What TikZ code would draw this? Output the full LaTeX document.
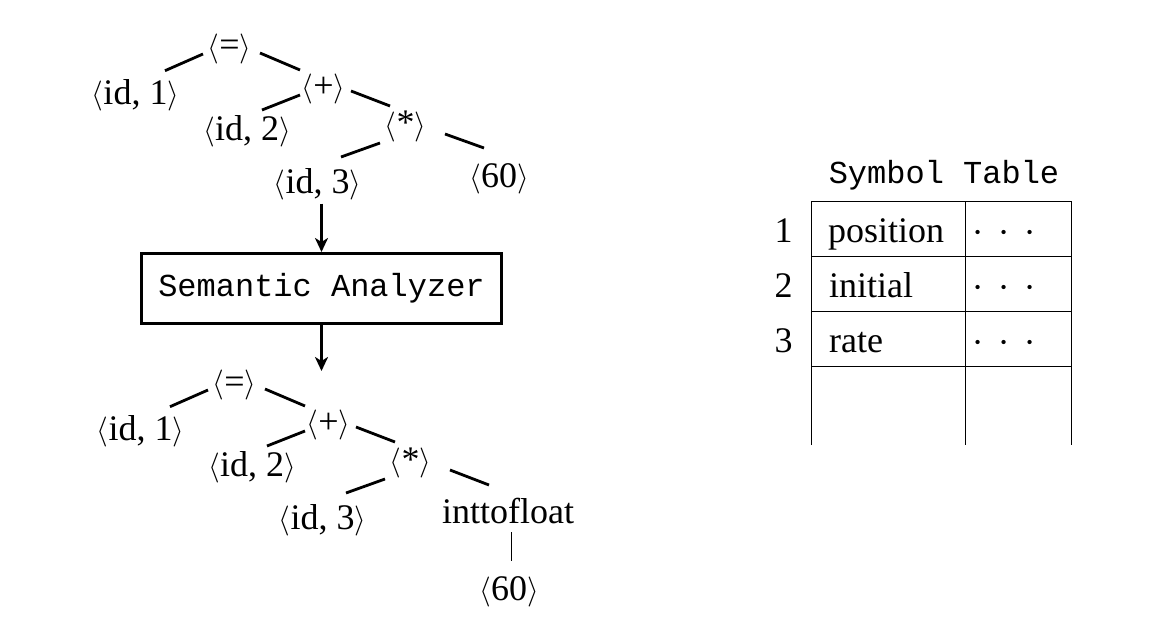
\documentclass[tikz,border=0pt]{standalone}
\usepackage{graphicx}
\usepackage{fontspec}
\setmainfont{Liberation Serif}
\setmonofont{Liberation Mono}
\usetikzlibrary{arrows.meta,calc}
\newcommand{\lbr}{\raisebox{1pt}{\scalebox{3}{\normalsize$\langle$}}}
\newcommand{\rbr}{\raisebox{1pt}{\scalebox{3}{\normalsize$\rangle$}}}
\newcommand{\abr}[1]{\lbr#1\rbr}
\newcommand{\tdot}{\scalebox{4}{\normalsize$\cdot$}}
\newcommand{\tdots}{\tdot\hspace{15pt}\tdot\hspace{15pt}\tdot}
\begin{document}
\begin{tikzpicture}[x=1pt,y=-1pt,
  lbl/.style={inner sep=0pt, anchor=base, font=\fontsize{36}{40}\selectfont},
  cell/.style={inner sep=0pt, anchor=base west, font=\fontsize{36}{40}\selectfont},
  edge/.style={line width=2.8pt},
  thinedge/.style={line width=1pt},
  grid/.style={line width=0.9pt},
  arr/.style={line width=3pt, -{Stealth[length=14pt,width=13pt,inset=4pt]}},
  tt/.style={font=\ttfamily\fontsize{32}{36}\selectfont}]
\useasboundingbox (0,0) rectangle (1176,626);

% ---------- top tree ----------
\node[lbl] (teq)   at (229.5,57)  {\abr{=}};
\node[lbl] (tid1)  at (135.5,104) {\abr{id, 1}};
\node[lbl] (tplus) at (323.5,97)  {\abr{+}};
\node[lbl] (tid2)  at (247,140)   {\abr{id, 2}};
\node[lbl] (tstar) at (405.5,135) {\abr{*}};
\node[lbl] (tid3)  at (317.5,193) {\abr{id, 3}};
\node[lbl] (tsixty) at (499,187)  {\abr{60}};

\draw[edge] ($(teq.base)+(-26.5,-3)$)  -- ($(tid1.base)+(29.5,-33.3)$);
\draw[edge] ($(teq.base)+(30.5,-4)$)   -- ($(tplus.base)+(-23.5,-27)$);
\draw[edge] ($(tplus.base)+(-23.5,-2)$) -- ($(tid2.base)+(15,-30)$);
\draw[edge] ($(tplus.base)+(27.5,-6)$) -- ($(tstar.base)+(-15.5,-29)$);
\draw[edge] ($(tstar.base)+(-25.5,8)$) -- ($(tid3.base)+(23.5,-36)$);
\draw[edge] ($(tstar.base)+(39.5,-1)$) -- ($(tsixty.base)+(-15,-39)$);

% ---------- analyzer ----------
\node[draw, line width=3pt, minimum width=360pt, minimum height=70pt, inner sep=0pt, tt] (sa) at (321.5,288.5) {Semantic Analyzer};
\coordinate (aend) at (321.5,371);
\draw[arr, shorten <=4pt] (tid3.south -| sa.north) -- (sa.north);
\draw[arr] (sa.south) -- (aend);

% ---------- bottom tree ----------
\node[lbl] (beq)   at (234.5,393) {\abr{=}};
\node[lbl] (bid1)  at (140.5,440) {\abr{id, 1}};
\node[lbl] (bplus) at (328.5,433) {\abr{+}};
\node[lbl] (bid2)  at (252,476)   {\abr{id, 2}};
\node[lbl] (bstar) at (410.5,471) {\abr{*}};
\node[lbl] (bid3)  at (322.5,529) {\abr{id, 3}};
\node[lbl] (bint)  at (508,523)   {inttofloat};
\node[lbl] (bsixty) at (509,600)  {\abr{60}};

\draw[edge] ($(beq.base)+(-26.5,-3)$)  -- ($(bid1.base)+(29.5,-33.3)$);
\draw[edge] ($(beq.base)+(30.5,-4)$)   -- ($(bplus.base)+(-23.5,-27)$);
\draw[edge] ($(bplus.base)+(-23.5,-2)$) -- ($(bid2.base)+(15,-30)$);
\draw[edge] ($(bplus.base)+(27.5,-6)$) -- ($(bstar.base)+(-15.5,-29)$);
\draw[edge] ($(bstar.base)+(-25.5,8)$) -- ($(bid3.base)+(23.5,-36)$);
\draw[edge] ($(bstar.base)+(39.5,-1)$) -- ($(bint.base)+(-19,-38)$);
\draw[thinedge] ($(bint.base)+(3,9)$) -- ($(bsixty.base)+(2,-39)$);

% ---------- symbol table ----------
\node[tt, inner sep=0pt, anchor=base] (sttitle) at (944,183) {Symbol Table};
\draw[grid] (811.7,445) -- (811.7,201) -- (1071.7,201) -- (1071.7,445);
\draw[grid] (965,201) -- (965,445);
\draw[grid] (811.7,256.7) -- (1071.7,256.7);
\draw[grid] (811.7,311.7) -- (1071.7,311.7);
\draw[grid] (811.7,366.7) -- (1071.7,366.7);

\node[lbl] (r1) at (783.5,242) {1};
\node[lbl] (r2) at (783.5,297) {2};
\node[lbl] (r3) at (783.5,352) {3};
\node[cell] (c1) at (828,242) {position};
\node[cell] (c2) at (829,297) {initial};
\node[cell] (c3) at (829,352) {rate};
\node[lbl] (d1) at (1004,242) {\tdots};
\node[lbl] (d2) at (1004,297) {\tdots};
\node[lbl] (d3) at (1004,352) {\tdots};
\end{tikzpicture}
\end{document}
